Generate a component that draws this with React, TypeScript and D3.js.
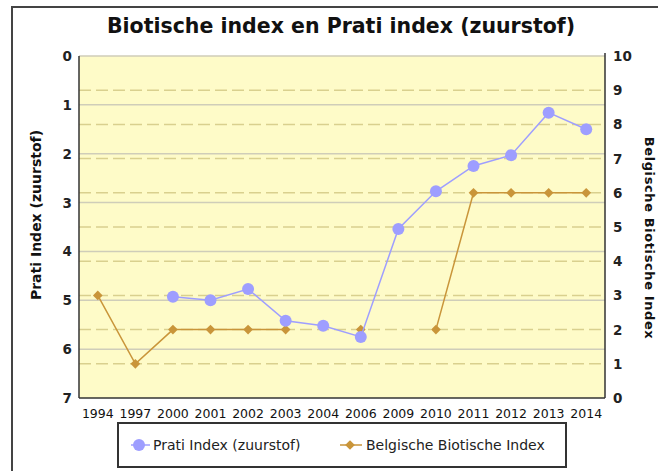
import React from "react";
import * as d3 from "d3";

const years = ["1994","1997","2000","2001","2002","2003","2004","2006","2009","2010","2011","2012","2013","2014"];
const prati: (number | null)[] = [null, null, 4.93, 5.0, 4.77, 5.42, 5.52, 5.75, 3.54, 2.77, 2.25, 2.03, 1.16, 1.5];
const biotic: (number | null)[] = [3, 1, 2, 2, 2, 2, null, 2, null, 2, 6, 6, 6, 6];
const leftTicks = [0, 1, 2, 3, 4, 5, 6, 7];
const rightTicks = [0, 1, 2, 3, 4, 5, 6, 7, 8, 9, 10];

const W = 658, H = 471;
const L = 79, R = 605, T = 56, B = 398;
const FONT = "'DejaVu Sans', Verdana, sans-serif";
const BLUE = "#9e9eff";
const GOLD = "#c9953a";

export default function App() {
  const x = d3.scaleBand<string>().domain(years).range([L, R]);
  const cx = (y: string) => (x(y) as number) + x.bandwidth() / 2;
  const yL = d3.scaleLinear().domain([0, 7]).range([T, B]);
  const yR = d3.scaleLinear().domain([0, 10]).range([B, T]);

  const pratiLine = d3.line<number | null>()
    .defined((d) => d !== null)
    .x((_, i) => cx(years[i]))
    .y((d) => yL(d as number));
  const bioLine = d3.line<number | null>()
    .defined((d) => d !== null)
    .x((_, i) => cx(years[i]))
    .y((d) => yR(d as number));
  const diamond = d3.symbol().type(d3.symbolDiamond2).size(60);

  return (
    <svg width={W} height={H} style={{ position: "absolute", left: 0, top: 0, fontFamily: FONT }}>
      <rect x={0} y={0} width={W} height={H} fill="#fff" />
      <rect x={12} y={7} width={W} height={H} fill="#fff" stroke="#444" strokeWidth={2} />
      <text x={341} y={33} textAnchor="middle" fontSize={20.5} fontWeight="bold" fill="#111">
        Biotische index en Prati index (zuurstof)
      </text>
      <rect x={L} y={T} width={R - L} height={B - T} fill="#fefbc8" />
      {rightTicks.slice(1, -1).map((t) => (
        <line key={"d" + t} x1={L} x2={R} y1={yR(t)} y2={yR(t)} stroke="#d9d08e" strokeWidth={1.5} strokeDasharray="12,5" />
      ))}
      {leftTicks.slice(0, -1).map((t) => (
        <line key={"s" + t} x1={L} x2={R} y1={yL(t)} y2={yL(t)} stroke="#cfcdb9" strokeWidth={1.5} />
      ))}
      <line x1={L} x2={L} y1={T} y2={B} stroke="#333" strokeWidth={1.5} />
      <line x1={R} x2={R} y1={T - 3} y2={B} stroke="#333" strokeWidth={1.5} />
      <line x1={L} x2={R} y1={B} y2={B} stroke="#333" strokeWidth={1.5} />
      {leftTicks.map((t) => (
        <text key={"l" + t} x={72} y={yL(t) + 5} textAnchor="end" fontSize={13.5} fontWeight="bold" fill="#222">{t}</text>
      ))}
      {rightTicks.map((t) => (
        <text key={"r" + t} x={613} y={yR(t) + 5} textAnchor="start" fontSize={13.5} fontWeight="bold" fill="#222">{t}</text>
      ))}
      {years.map((yr) => (
        <text key={yr} x={cx(yr)} y={418} textAnchor="middle" fontSize={12.5} fill="#111">{yr}</text>
      ))}
      <text transform={`translate(41,215) rotate(-90)`} textAnchor="middle" fontSize={14} fontWeight="bold" fill="#111">
        Prati Index (zuurstof)
      </text>
      <text transform={`translate(645,238) rotate(90)`} textAnchor="middle" fontSize={13} fontWeight="bold" letterSpacing={0.6} fill="#111">
        Belgische Biotische Index
      </text>
      <path d={bioLine(biotic) || ""} fill="none" stroke={GOLD} strokeWidth={1.5} />
      {biotic.map((v, i) => v === null ? null : (
        <path key={"b" + i} d={diamond() || ""} transform={`translate(${cx(years[i])},${yR(v)})`} fill={GOLD} />
      ))}
      <path d={pratiLine(prati) || ""} fill="none" stroke={BLUE} strokeWidth={1.5} />
      {prati.map((v, i) => v === null ? null : (
        <circle key={"p" + i} cx={cx(years[i])} cy={yL(v)} r={6} fill={BLUE} />
      ))}
      <rect x={118} y={423} width={448} height={44} fill="#fff" stroke="#333" strokeWidth={2} />
      <line x1={131} x2={150} y1={445} y2={445} stroke={BLUE} strokeWidth={1.5} />
      <circle cx={139} cy={445} r={6} fill={BLUE} />
      <text x={153} y={450} fontSize={14} fill="#222">Prati Index (zuurstof)</text>
      <line x1={340} x2={362} y1={445} y2={445} stroke={GOLD} strokeWidth={1.5} />
      <path d={diamond() || ""} transform="translate(350,445)" fill={GOLD} />
      <text x={366} y={450} fontSize={14} fill="#222">Belgische Biotische Index</text>
    </svg>
  );
}
